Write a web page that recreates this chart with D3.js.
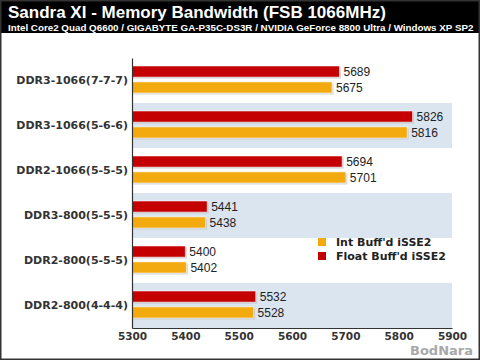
<!DOCTYPE html>
<html><head><meta charset="utf-8">
<script src="https://cdn.jsdelivr.net/npm/d3@7"></script>
<style>html,body{margin:0;padding:0;background:#fff;}svg{display:block;}</style>
</head><body>
<script>
const categories = ["DDR3-1066(7-7-7)","DDR3-1066(5-6-6)","DDR2-1066(5-5-5)","DDR3-800(5-5-5)","DDR2-800(5-5-5)","DDR2-800(4-4-4)"];
const floatValues = [5689,5826,5694,5441,5400,5532];
const intValues = [5675,5816,5701,5438,5402,5528];
const tickValues = [5300,5400,5500,5600,5700,5800,5900];
const seriesNames = ["Float Buff'd iSSE2","Int Buff'd iSSE2"];
const legendOrder = ["Int Buff'd iSSE2","Float Buff'd iSSE2"];
const colors = {"Float Buff'd iSSE2":"#c40000","Int Buff'd iSSE2":"#f3aa0e"};
const title = "Sandra XI - Memory Bandwidth (FSB 1066MHz)";
const subtitle = "Intel Core2 Quad Q6600 / GIGABYTE GA-P35C-DS3R / NVIDIA GeForce 8800 Ultra / Windows XP SP2";

const W=480,H=360;
const svg=d3.select("body").append("svg").attr("width",W).attr("height",H);
svg.append("rect").attr("width",W).attr("height",H).attr("fill","#fff");
// header
svg.append("rect").attr("x",0).attr("y",0).attr("width",W).attr("height",33).attr("fill","#000");
svg.append("text").attr("x",8).attr("y",17.5).text(title)
  .attr("fill","#fff").attr("font-family","Liberation Sans, Arial, sans-serif").attr("font-weight","bold").attr("font-size",17);
svg.append("text").attr("x",8).attr("y",30.5).text(subtitle)
  .attr("fill","#fff").attr("font-family","Liberation Sans, Arial, sans-serif").attr("font-weight","bold").attr("font-size",9.8);

const x=d3.scaleLinear().domain([5300,5900]).range([132,452]);
const y=d3.scaleBand().domain(categories).range([58,328]);
const sub=d3.scaleBand().domain(seriesNames).range([8,35]).paddingInner(0.3);

// bands
svg.append("g").selectAll("rect").data(categories.filter((c,i)=>i%2==1)).join("rect")
  .attr("x",x(5300)).attr("y",d=>y(d)).attr("width",x(5900)-x(5300)).attr("height",y.bandwidth())
  .attr("fill","#dbe5f0");

const rows=[];
categories.forEach((c,i)=>{
  rows.push({cat:c,s:seriesNames[0],v:floatValues[i]});
  rows.push({cat:c,s:seriesNames[1],v:intValues[i]});
});
const g=svg.append("g");
g.selectAll("rect.sh").data(rows).join("rect").attr("class","sh")
  .attr("x",x(5300)).attr("y",d=>y(d.cat)+sub(d.s)+1.5)
  .attr("width",d=>x(d.v)-x(5300)+1.5).attr("height",sub.bandwidth())
  .attr("fill","#bdbdbd").attr("opacity",0.6);
g.selectAll("rect.bar").data(rows).join("rect").attr("class","bar")
  .attr("x",x(5300)).attr("y",d=>y(d.cat)+sub(d.s))
  .attr("width",d=>x(d.v)-x(5300)).attr("height",sub.bandwidth())
  .attr("fill",d=>colors[d.s]).attr("stroke","#fff").attr("stroke-opacity",0.55).attr("stroke-width",1);
g.selectAll("text.val").data(rows).join("text").attr("class","val")
  .attr("x",d=>x(d.v)+4).attr("y",d=>y(d.cat)+sub(d.s)+sub.bandwidth()/2)
  .attr("dy","0.36em").text(d=>d.v)
  .attr("font-family","Liberation Sans, Arial, sans-serif").attr("font-size",12).attr("fill","#222");

// axes
const yAxis=svg.append("g").attr("transform",`translate(${x(5300)},0)`)
  .call(d3.axisLeft(y).tickSize(0).tickPadding(4));
yAxis.select(".domain").attr("stroke","#333").attr("stroke-width",1.2);
yAxis.selectAll("text").attr("font-family","DejaVu Sans, sans-serif").attr("font-weight","bold").attr("font-size",11).attr("fill","#333");
const xAxis=svg.append("g").attr("transform",`translate(0,328)`)
  .call(d3.axisBottom(x).tickValues(tickValues).tickSize(0).tickPadding(5).tickFormat(d3.format("d")));
xAxis.select(".domain").attr("stroke","#333").attr("stroke-width",1.2);
xAxis.selectAll("text").attr("font-family","DejaVu Sans, sans-serif").attr("font-weight","bold").attr("font-size",10.5).attr("fill","#333");

// legend
const lg=svg.append("g").selectAll("g").data(legendOrder).join("g")
  .attr("transform",(d,i)=>`translate(318,${238+i*14})`);
lg.append("rect").attr("width",8).attr("height",8).attr("fill",d=>colors[d]);
lg.append("text").attr("x",18).attr("y",4).attr("dy","0.36em").text(d=>d)
  .attr("font-family","DejaVu Sans, sans-serif").attr("font-weight","bold").attr("font-size",11).attr("fill","#222");

// watermark
svg.append("text").attr("x",473).attr("y",355).attr("text-anchor","end").text("BodNara")
  .attr("font-family","DejaVu Sans, sans-serif").attr("font-weight","bold").attr("font-size",13)
  .attr("fill","#a8a8a8");

// frame
svg.append("rect").attr("x",0.75).attr("y",0.75).attr("width",W-1.5).attr("height",H-1.5)
  .attr("fill","none").attr("stroke","#333").attr("stroke-width",1.5);
</script>
</body></html>
